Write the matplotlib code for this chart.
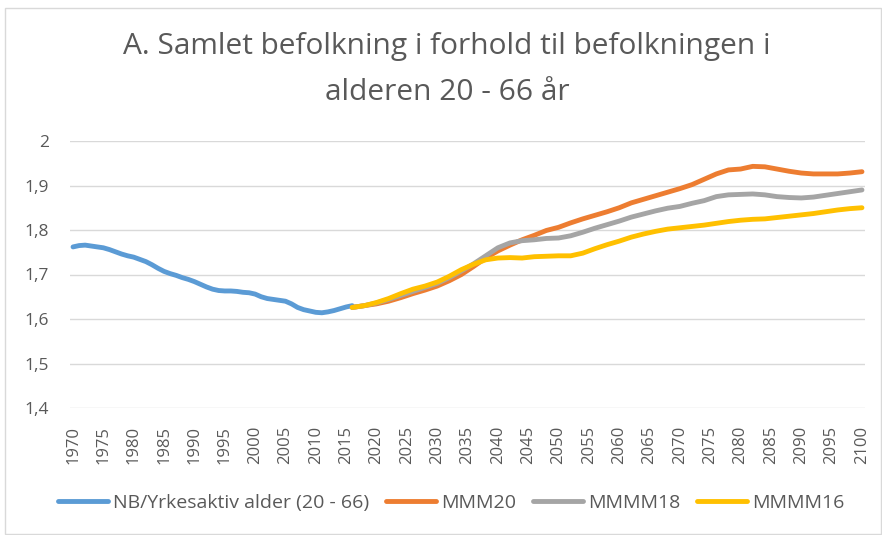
import numpy as np
import matplotlib
matplotlib.use('Agg')
import matplotlib.pyplot as plt
from matplotlib.patches import Rectangle
from matplotlib.ticker import FuncFormatter

plt.rcParams['font.family'] = ['Open Sans', 'DejaVu Sans']

# Historical series (yearly)
hist_years = list(range(1970, 2017))
hist_vals = [1.762, 1.765, 1.766, 1.764, 1.762, 1.760, 1.756, 1.751, 1.746, 1.742,
             1.739, 1.734, 1.729, 1.722, 1.714, 1.707, 1.702, 1.698, 1.693, 1.689,
             1.684, 1.678, 1.672, 1.667, 1.664, 1.663, 1.663, 1.662, 1.660, 1.659,
             1.656, 1.650, 1.646, 1.644, 1.642, 1.640, 1.634, 1.626, 1.621, 1.618,
             1.615, 1.614, 1.616, 1.619, 1.623, 1.627, 1.630]

# Projections (every second year)
proj_years = list(range(2016, 2101, 2))
mmm20 = [1.626, 1.630, 1.634, 1.640, 1.648, 1.657, 1.665, 1.674, 1.686, 1.700,
         1.718, 1.737, 1.753, 1.766, 1.778, 1.788, 1.799, 1.806, 1.816, 1.825,
         1.833, 1.841, 1.850, 1.861, 1.869, 1.877, 1.885, 1.893, 1.902, 1.914,
         1.926, 1.935, 1.937, 1.943, 1.942, 1.937, 1.932, 1.928, 1.926, 1.926,
         1.926, 1.928, 1.931]
mmmm18 = [1.626, 1.630, 1.636, 1.644, 1.653, 1.662, 1.671, 1.680, 1.693, 1.708,
          1.724, 1.742, 1.760, 1.771, 1.776, 1.778, 1.781, 1.782, 1.787, 1.795,
          1.804, 1.812, 1.820, 1.829, 1.836, 1.843, 1.849, 1.853, 1.860, 1.866,
          1.875, 1.879, 1.880, 1.881, 1.879, 1.875, 1.873, 1.872, 1.874, 1.878,
          1.882, 1.886, 1.890]
mmmm16 = [1.626, 1.630, 1.637, 1.646, 1.657, 1.667, 1.674, 1.683, 1.696, 1.711,
          1.723, 1.733, 1.737, 1.738, 1.737, 1.740, 1.741, 1.742, 1.742, 1.748,
          1.758, 1.767, 1.775, 1.784, 1.791, 1.797, 1.802, 1.805, 1.808, 1.811,
          1.815, 1.819, 1.822, 1.824, 1.825, 1.828, 1.831, 1.834, 1.837, 1.841,
          1.845, 1.848, 1.850]

labels = ['NB/Yrkesaktiv alder (20 - 66)', 'MMM20', 'MMMM18', 'MMMM16']
colors = ['#5B9BD5', '#ED7D31', '#A5A5A5', '#FFC000']
xticks = list(range(1970, 2101, 5))

fig = plt.figure(figsize=(8.82, 5.35), dpi=100)
fig.patches.append(Rectangle((5 / 882, 0.002), 876 / 882, 1 - 8 / 535 - 0.002,
                             transform=fig.transFigure, fill=False,
                             edgecolor='#d9d9d9', linewidth=1))
ax = fig.add_axes([70 / 882, 1 - 408 / 535, 795 / 882, 267 / 535])

lw = 3.5
ax.plot(hist_years, hist_vals, color=colors[0], lw=lw, label=labels[0],
        solid_capstyle='round')
ax.plot(proj_years, mmm20, color=colors[1], lw=lw, label=labels[1],
        solid_capstyle='round')
ax.plot(proj_years, mmmm18, color=colors[2], lw=lw, label=labels[2],
        solid_capstyle='round')
ax.plot(proj_years, mmmm16, color=colors[3], lw=lw, label=labels[3],
        solid_capstyle='round')

ax.set_xlim(1969.5, 2100.5)
ax.set_ylim(1.4, 2.0)
ax.set_yticks(np.arange(1.4, 2.01, 0.1))
ax.yaxis.set_major_formatter(FuncFormatter(lambda v, p: f'{v:.1f}'.replace('.', ',').replace('2,0', '2')))
ax.set_xticks(xticks)
ax.set_xticklabels([str(y) for y in xticks], rotation=90)
ax.grid(axis='y', color='#d9d9d9', lw=1)
ax.set_axisbelow(True)
for s in ax.spines.values():
    s.set_visible(False)
ax.tick_params(axis='both', length=0, colors='#595959')
ax.tick_params(axis='y', pad=15, labelsize=12.5)
ax.tick_params(axis='x', pad=13, labelsize=12)

fig.text(0.507, 1 - 47 / 535, 'A. Samlet befolkning i forhold til befolkningen i',
         ha='center', va='center', fontsize=21.5, color='#595959')
fig.text(0.507, 1 - 93 / 535, 'alderen 20 - 66 år',
         ha='center', va='center', fontsize=21.5, color='#595959')

leg = fig.legend(loc='center', bbox_to_anchor=(451 / 882, 1 - 503 / 535), ncol=4,
                 frameon=False, fontsize=14, handlelength=2.6, handletextpad=0.25,
                 columnspacing=0.85)
for t in leg.get_texts():
    t.set_color('#595959')

fig.savefig('out.png', dpi=100)
